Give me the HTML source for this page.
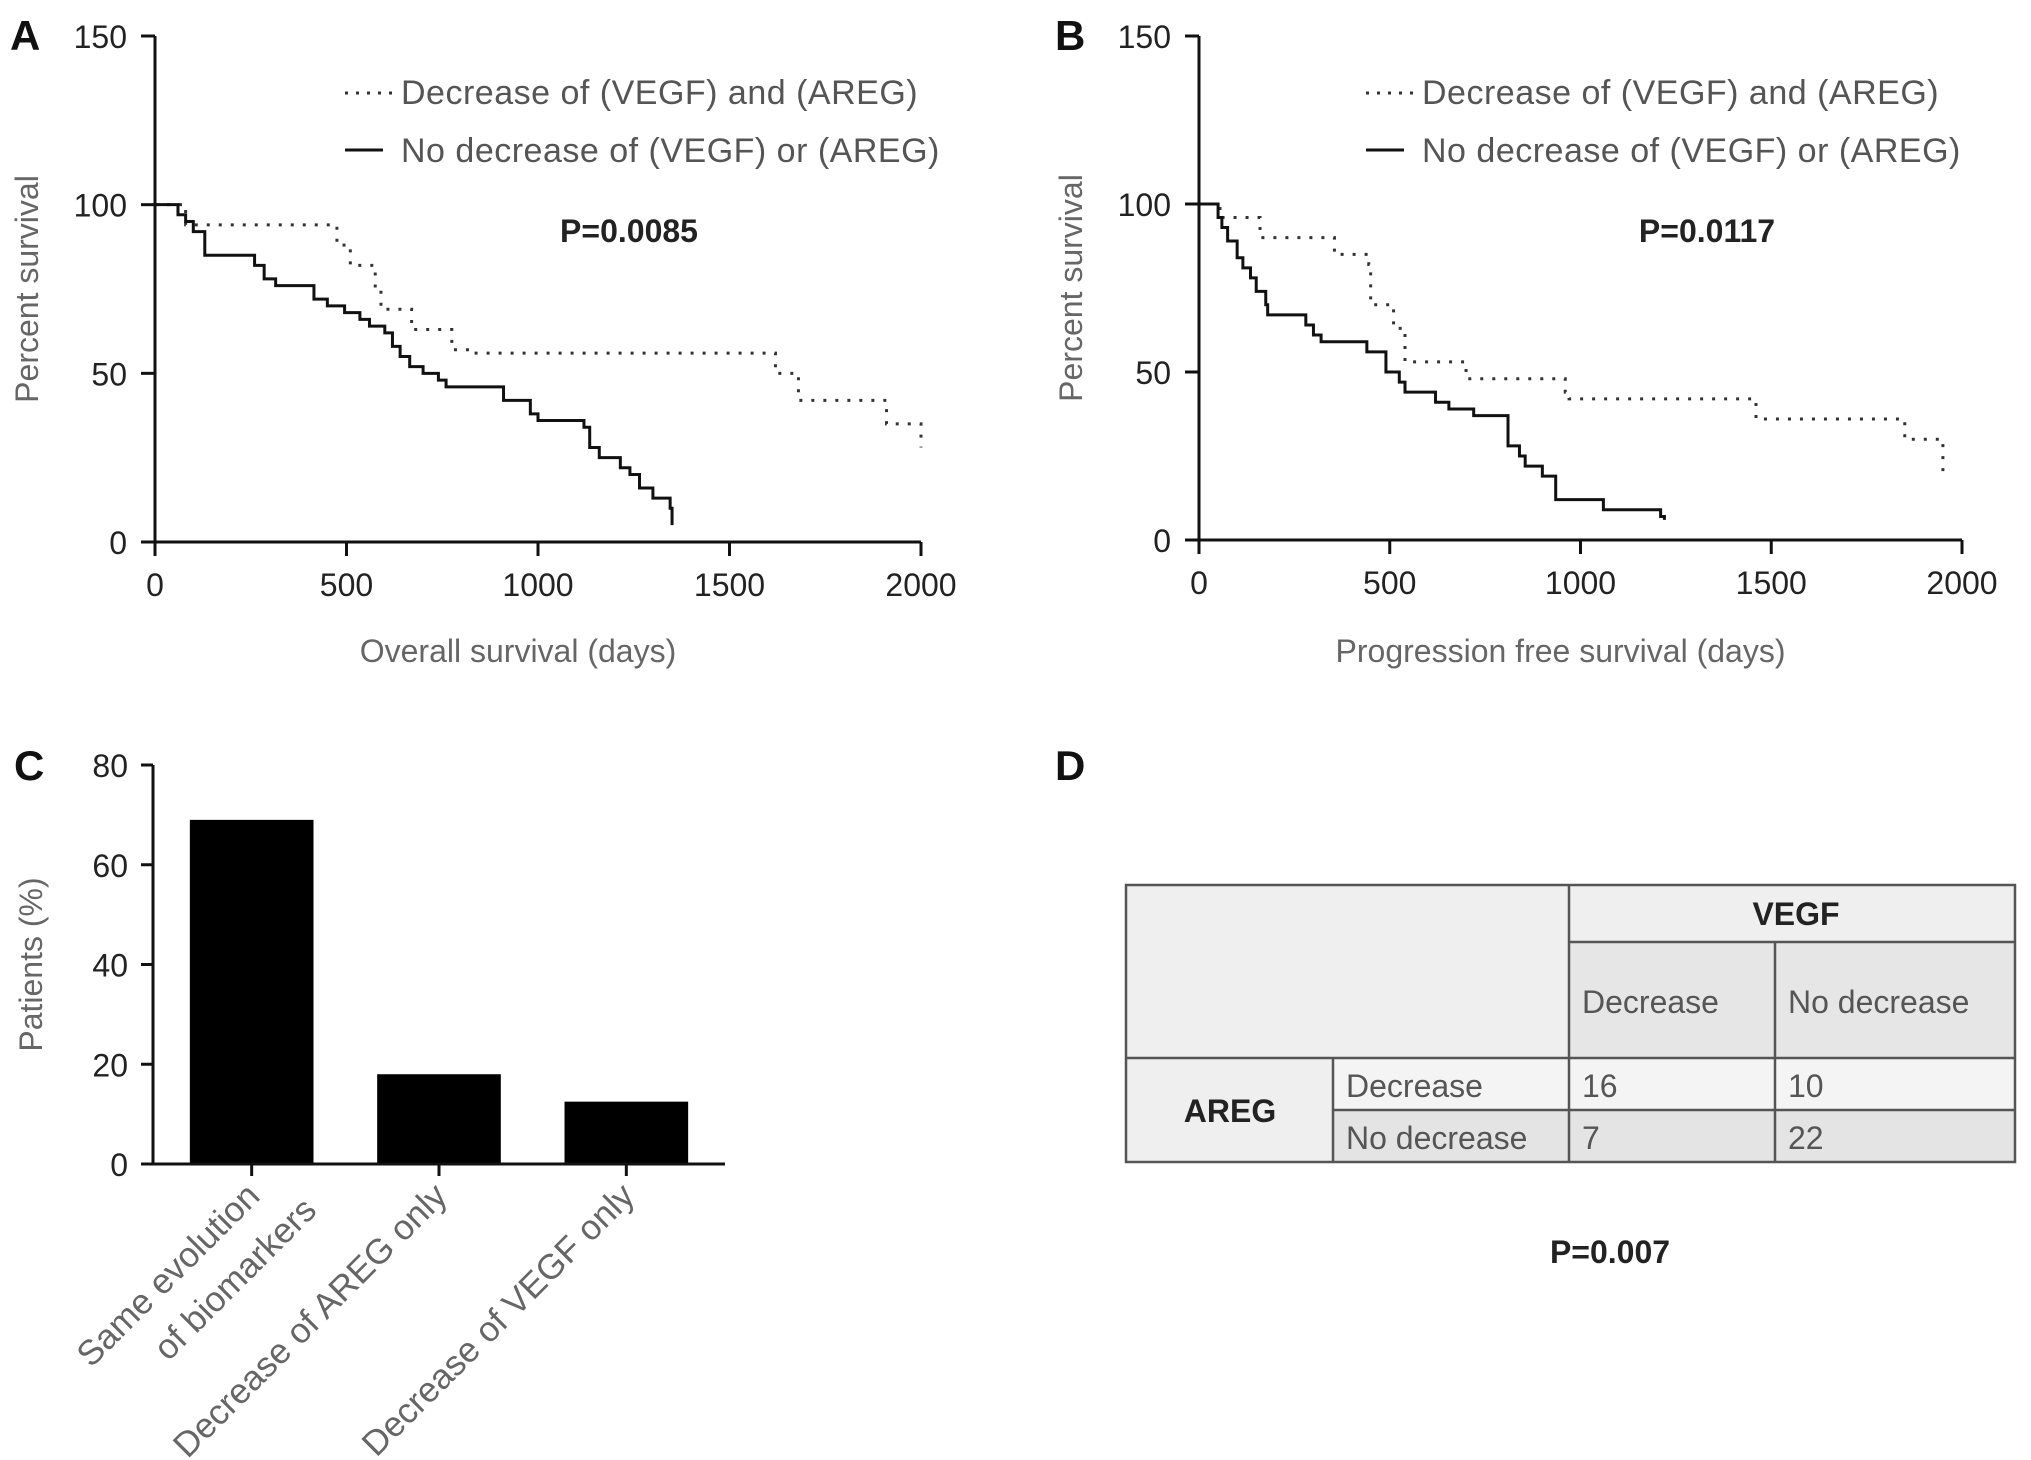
<!DOCTYPE html>
<html><head><meta charset="utf-8">
<style>
html,body{margin:0;padding:0;background:#fff;}
svg{display:block;font-family:"Liberation Sans",Arial,sans-serif;}
.tick{font-size:32px;fill:#222;}
.title{font-size:32px;fill:#666;}
.cat{font-size:35px;fill:#666;}
.leg{font-size:34px;fill:#555;letter-spacing:0.5px;}
.pval{font-size:32px;font-weight:bold;fill:#222;}
.panel{font-size:42px;fill:#111;font-weight:bold;}
.cell{font-size:32px;fill:#555;}
.bold{font-size:32px;font-weight:bold;fill:#222;}
</style></head>
<body>
<svg id="fig" width="2031" height="1460" viewBox="0 0 2031 1460" xmlns="http://www.w3.org/2000/svg">
<g id="chartA"></g>
<g id="chartB"></g>
<g id="chartC"></g>
<g id="tableD">
  <text class="panel" x="1055" y="780">D</text>
  <rect x="1126" y="885" width="443" height="173" fill="#efefef"/>
  <rect x="1569" y="885" width="446" height="57" fill="#efefef"/>
  <rect x="1569" y="942" width="206" height="116" fill="#e6e6e6"/>
  <rect x="1775" y="942" width="240" height="116" fill="#e6e6e6"/>
  <rect x="1126" y="1058" width="207" height="104" fill="#efefef"/>
  <rect x="1333" y="1058" width="682" height="52" fill="#f4f4f4"/>
  <rect x="1333" y="1110" width="682" height="52" fill="#e4e4e4"/>
  <g stroke="#555" stroke-width="2.5" fill="none">
    <rect x="1126" y="885" width="889" height="277"/>
    <line x1="1569" y1="885" x2="1569" y2="1162"/>
    <line x1="1569" y1="942" x2="2015" y2="942"/>
    <line x1="1775" y1="942" x2="1775" y2="1162"/>
    <line x1="1126" y1="1058" x2="2015" y2="1058"/>
    <line x1="1333" y1="1058" x2="1333" y2="1162"/>
    <line x1="1333" y1="1110" x2="2015" y2="1110"/>
  </g>
  <text class="bold" x="1796" y="925" text-anchor="middle">VEGF</text>
  <text class="cell" x="1582" y="1013">Decrease</text>
  <text class="cell" x="1788" y="1013">No decrease</text>
  <text class="bold" x="1230" y="1122" text-anchor="middle">AREG</text>
  <text class="cell" x="1346" y="1097">Decrease</text>
  <text class="cell" x="1346" y="1149">No decrease</text>
  <text class="cell" x="1582" y="1097">16</text>
  <text class="cell" x="1788" y="1097">10</text>
  <text class="cell" x="1582" y="1149">7</text>
  <text class="cell" x="1788" y="1149">22</text>
  <text class="pval" x="1610" y="1263" text-anchor="middle">P=0.007</text>
</g>
</svg>
<script>
// Panel A data
const aDecT = [0,80,475,510,575,590,670,775,820,1620,1680,1910,2000];
const aDecS = [100,94,88,82,75,69,63,57,56,50,42,35,28];
const aNoT = [0,60,80,100,130,260,285,315,415,450,495,535,560,600,620,640,665,700,740,760,910,980,1000,1120,1135,1160,1215,1240,1265,1300,1345,1350];
const aNoS = [100,97,95,92,85,82,78,76,72,70,68,66,64,62,58,55,52,50,48,46,42,38,36,34,28,25,22,20,16,13,10,5];
// Panel B data
const bDecT = [0,55,160,355,445,450,510,540,700,960,970,1460,1850,1950,1950];
const bDecS = [100,96,90,85,82,70,63,53,48,44,42,36,30,28,18];
const bNoT = [0,50,60,75,100,115,135,150,175,180,280,300,320,440,490,525,540,620,655,720,810,840,855,900,935,1060,1210,1220];
const bNoS = [100,96,93,89,84,81,78,74,70,67,64,61,59,56,50,47,44,41,39,37,28,25,22,19,12,9,7,6];
const kmXTicks = [0,500,1000,1500,2000];
const kmYTicks = [0,50,100,150];
// Panel C data
const cCats = [["Same evolution","of biomarkers"],["Decrease of AREG only"],["Decrease of VEGF only"]];
const cVals = [69,18,12.5];
const cYTicks = [0,20,40,60,80];

const NS="http://www.w3.org/2000/svg";
function mk(parent,tag,attrs,text){const e=document.createElementNS(NS,tag);for(const k in attrs)e.setAttribute(k,attrs[k]);if(text!==undefined)e.textContent=text;parent.appendChild(e);return e;}

function km(g,cfg){
  const sx=v=>cfg.x0+(v/2000)*(cfg.x1-cfg.x0);
  const sy=v=>cfg.y0-(v/150)*(cfg.y0-cfg.y1);
  const ya=mk(g,'line',{x1:cfg.x0,y1:cfg.y1,x2:cfg.x0,y2:cfg.y0+14,stroke:'#111','stroke-width':3});
  
  
  const xa=mk(g,'line',{x1:cfg.x0-14,y1:cfg.y0,x2:cfg.x1,y2:cfg.y0,stroke:'#111','stroke-width':3});
  
  
  kmYTicks.forEach(v=>{
    mk(g,'line',{x1:cfg.x0-14,y1:sy(v),x2:cfg.x0,y2:sy(v),stroke:'#111','stroke-width':3});
    const t=mk(g,'text',{class:'tick',x:cfg.x0-28,y:sy(v)+12,'text-anchor':'end'},String(v));
    
    
  });
  kmXTicks.forEach(v=>{
    mk(g,'line',{x1:sx(v),y1:cfg.y0,x2:sx(v),y2:cfg.y0+14,stroke:'#111','stroke-width':3});
    const t=mk(g,'text',{class:'tick',x:sx(v),y:cfg.y0+54,'text-anchor':'middle'},String(v));
    
    
  });
  function step(T,S,dash,name){
    let d='M'+sx(T[0])+','+sy(S[0]);
    for(let i=1;i<T.length;i++){d+=' H'+sx(T[i])+' V'+sy(S[i]);}
    const p=mk(g,'path',{d:d,fill:'none',stroke:dash?'#333':'#111','stroke-width':3,'stroke-dasharray':dash?'3 9':'none'});
    
    
  }
  step(cfg.decT,cfg.decS,true,'series-decrease');
  step(cfg.noT,cfg.noS,false,'series-no-decrease');
  const lab=mk(g,'text',{class:'panel',x:cfg.lx,y:50},cfg.label);
  
  
  const yt=mk(g,'text',{class:'title',transform:`translate(${cfg.x0-117},${sy(75)}) rotate(-90)`,'text-anchor':'middle'},'Percent survival');
  
  
  const xt=mk(g,'text',{class:'title',x:(cfg.x0+cfg.x1)/2-20,y:662,'text-anchor':'middle'},cfg.xtitle);
  
  
  const l1=mk(g,'line',{x1:cfg.legX,y1:93,x2:cfg.legX+50,y2:93,stroke:'#333','stroke-width':3,'stroke-dasharray':'3 8'});
  
  
  const t1=mk(g,'text',{class:'leg',x:cfg.legX+56,y:104},'Decrease of (VEGF)  and  (AREG)');
  
  
  const l2=mk(g,'line',{x1:cfg.legX,y1:150,x2:cfg.legX+38,y2:150,stroke:'#111','stroke-width':3});
  
  
  const t2=mk(g,'text',{class:'leg',x:cfg.legX+56,y:162},'No decrease of (VEGF)  or  (AREG)');
  
  
  const pv=mk(g,'text',{class:'pval',x:cfg.px,y:242,'text-anchor':'middle'},cfg.p);
  
  
}
km(document.getElementById('chartA'),{x0:155,x1:921,y0:542,y1:36,decT:aDecT,decS:aDecS,noT:aNoT,noS:aNoS,label:'A',lx:10,xtitle:'Overall survival (days)',legX:345,px:629,p:'P=0.0085'});
km(document.getElementById('chartB'),{x0:1199,x1:1962,y0:540,y1:36,decT:bDecT,decS:bDecS,noT:bNoT,noS:bNoS,label:'B',lx:1055,xtitle:'Progression free survival (days)',legX:1366,px:1707,p:'P=0.0117'});

(function(){
  const g=document.getElementById('chartC');
  const x0=153,x1=725,y0=1164,y1=765;
  const sy=v=>y0-(v/80)*(y0-y1);
  const band=(x1-x0-10)/cCats.length;
  const sx=i=>x0+5+band*(i+0.5);
  const bw=band*0.66;
  cVals.forEach((v,i)=>{
    const r=mk(g,'rect',{x:sx(i)-bw/2,y:sy(v),width:bw,height:y0-sy(v),fill:'#000'});
    
    
    mk(g,'line',{x1:sx(i),y1:y0,x2:sx(i),y2:y0+12,stroke:'#111','stroke-width':3});
    const lines=cCats[i];
    const t=mk(g,'text',{class:'cat','text-anchor':'end',transform:`translate(${sx(i)+10},${y0+34}) rotate(-45)`});
    
    
    lines.forEach((ln,j)=>{
      mk(t,'tspan',{x:j===0?0:30,dy:j===0?0:50},ln);
    });
  });
  const ya=mk(g,'line',{x1:x0,y1:y1,x2:x0,y2:y0,stroke:'#111','stroke-width':3});
  
  
  const xa=mk(g,'line',{x1:x0-12,y1:y0,x2:x1,y2:y0,stroke:'#111','stroke-width':3});
  
  
  cYTicks.forEach(v=>{
    mk(g,'line',{x1:x0-12,y1:sy(v),x2:x0,y2:sy(v),stroke:'#111','stroke-width':3});
    const t=mk(g,'text',{class:'tick',x:x0-25,y:sy(v)+12,'text-anchor':'end'},String(v));
    
    
  });
  const yt=mk(g,'text',{class:'title',transform:`translate(42,${sy(40)}) rotate(-90)`,'text-anchor':'middle'},'Patients (%)');
  
  
  const lab=mk(g,'text',{class:'panel',x:14,y:780},'C');
  
  
})();
</script>
</body></html>
